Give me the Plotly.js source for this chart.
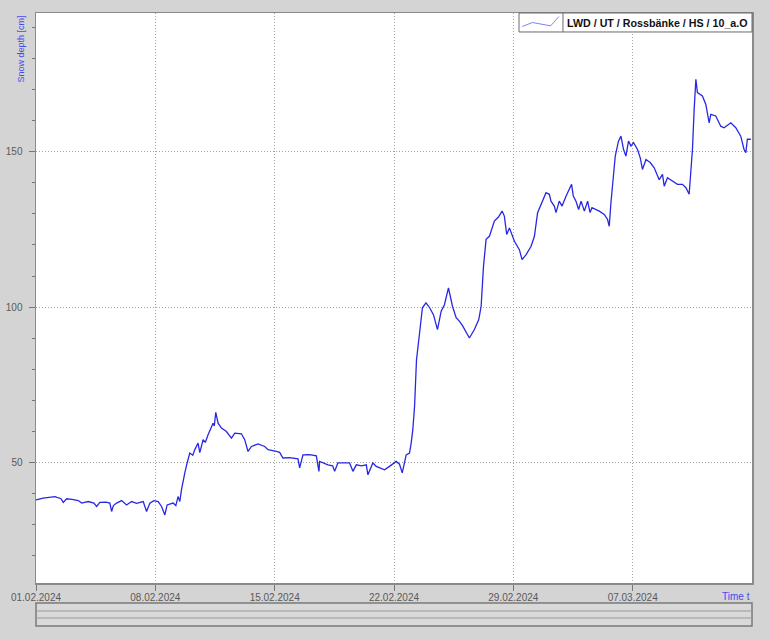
<!DOCTYPE html>
<html>
<head>
<meta charset="utf-8">
<script src="https://cdn.plot.ly/plotly-3.0.1.min.js"></script>
<style>
  html, body { margin: 0; padding: 0; background: #d4d4d4; }
  #chart { width: 770px; height: 639px; }
</style>
</head>
<body>
<div id="chart"></div>
<script>
// Snow depth station LWD / UT / Rossbänke / HS / 10_a.O, February - March 2024
const times = [
  "2024-02-01 00:00","2024-02-01 10:00","2024-02-02 02:40","2024-02-02 11:10","2024-02-02 14:25",
  "2024-02-02 19:10","2024-02-03 02:40","2024-02-03 11:30","2024-02-03 16:20","2024-02-04 01:30",
  "2024-02-04 09:30","2024-02-04 13:20","2024-02-04 18:00","2024-02-05 02:25","2024-02-05 08:00",
  "2024-02-05 10:25","2024-02-05 13:00","2024-02-05 17:30","2024-02-06 00:30","2024-02-06 07:30",
  "2024-02-06 14:35","2024-02-06 21:35","2024-02-07 06:55","2024-02-07 11:40","2024-02-07 16:20",
  "2024-02-07 21:55","2024-02-08 04:00","2024-02-08 08:45","2024-02-08 13:25","2024-02-08 16:35",
  "2024-02-09 01:00","2024-02-09 04:50","2024-02-09 08:00","2024-02-09 10:30","2024-02-09 12:50",
  "2024-02-09 15:05","2024-02-09 17:30","2024-02-09 20:20","2024-02-10 00:30","2024-02-10 04:45",
  "2024-02-10 07:35","2024-02-10 12:10","2024-02-10 14:35","2024-02-10 19:15","2024-02-10 22:20",
  "2024-02-11 02:15","2024-02-11 07:00","2024-02-11 09:15","2024-02-11 11:00","2024-02-11 13:05",
  "2024-02-11 16:20","2024-02-11 21:05","2024-02-12 04:05","2024-02-12 11:10","2024-02-12 15:50",
  "2024-02-13 01:10","2024-02-13 05:50","2024-02-13 10:30","2024-02-13 15:20","2024-02-14 00:35",
  "2024-02-14 10:00","2024-02-14 14:35","2024-02-15 02:25","2024-02-15 07:00","2024-02-15 11:40",
  "2024-02-15 21:05","2024-02-16 08:50","2024-02-16 11:10","2024-02-16 15:50","2024-02-17 01:10",
  "2024-02-17 10:40","2024-02-17 14:20","2024-02-17 15:20","2024-02-18 03:00","2024-02-18 09:35",
  "2024-02-18 12:25","2024-02-18 17:00","2024-02-19 01:00","2024-02-19 09:30","2024-02-19 14:10",
  "2024-02-19 18:55","2024-02-20 02:20","2024-02-20 09:00","2024-02-20 11:15","2024-02-20 18:15",
  "2024-02-20 23:00","2024-02-21 05:00","2024-02-21 10:40","2024-02-21 17:40","2024-02-22 03:05",
  "2024-02-22 07:45","2024-02-22 11:35","2024-02-22 17:10","2024-02-22 21:50","2024-02-23 00:10",
  "2024-02-23 02:30","2024-02-23 04:55","2024-02-23 07:40","2024-02-23 12:00","2024-02-23 16:00",
  "2024-02-23 21:00","2024-02-24 02:00","2024-02-24 07:40","2024-02-24 13:10","2024-02-24 18:25",
  "2024-02-24 23:00","2024-02-25 04:40","2024-02-25 10:20","2024-02-25 15:30","2024-02-25 20:00",
  "2024-02-26 00:50","2024-02-26 06:00","2024-02-26 10:10","2024-02-26 17:10","2024-02-26 23:20",
  "2024-02-27 02:40","2024-02-27 06:00","2024-02-27 09:40","2024-02-27 14:20","2024-02-27 21:20",
  "2024-02-28 03:00","2024-02-28 08:10","2024-02-28 11:20","2024-02-28 14:40","2024-02-28 18:30",
  "2024-02-29 01:30","2024-02-29 08:30","2024-02-29 12:20","2024-02-29 18:00","2024-03-01 01:00",
  "2024-03-01 05:40","2024-03-01 10:10","2024-03-01 17:20","2024-03-01 22:00","2024-03-02 02:40",
  "2024-03-02 05:00","2024-03-02 09:40","2024-03-02 12:05","2024-03-02 16:40","2024-03-02 20:35",
  "2024-03-03 02:10","2024-03-03 06:50","2024-03-03 10:00","2024-03-03 12:25","2024-03-03 16:10",
  "2024-03-03 19:55","2024-03-03 23:20","2024-03-04 04:00","2024-03-04 08:35","2024-03-04 12:00",
  "2024-03-04 14:40","2024-03-05 01:00","2024-03-05 08:00","2024-03-05 12:40","2024-03-05 15:00",
  "2024-03-05 17:25","2024-03-05 20:40","2024-03-05 23:30","2024-03-06 04:00","2024-03-06 07:30",
  "2024-03-06 11:10","2024-03-06 14:30","2024-03-06 18:10","2024-03-06 21:35","2024-03-07 01:10",
  "2024-03-07 06:50","2024-03-07 10:40","2024-03-07 13:50","2024-03-07 18:40","2024-03-08 00:40",
  "2024-03-08 06:20","2024-03-08 13:20","2024-03-08 18:00","2024-03-08 20:25","2024-03-09 01:00",
  "2024-03-09 08:00","2024-03-09 15:00","2024-03-09 22:00","2024-03-10 03:00","2024-03-10 07:30",
  "2024-03-10 12:10","2024-03-10 14:35","2024-03-10 17:00","2024-03-10 19:10","2024-03-11 02:10",
  "2024-03-11 07:00","2024-03-11 11:40","2024-03-11 14:00","2024-03-11 21:00","2024-03-12 04:00",
  "2024-03-12 08:40","2024-03-12 18:10","2024-03-13 01:10","2024-03-13 08:10","2024-03-13 12:50",
  "2024-03-13 15:20","2024-03-13 17:30","2024-03-13 22:20"
];

const snowDepth = [
  38.0, 38.6, 39.1, 38.4, 37.2,
  38.4, 38.2, 37.8, 37.0, 37.5,
  37.0, 35.9, 37.2, 37.3, 37.0,
  34.3, 36.2, 37.0, 37.8, 36.4,
  37.5, 36.9, 37.5, 34.3, 37.0,
  37.8, 37.5, 35.9, 33.2, 36.4,
  37.0, 36.2, 39.1, 37.5, 41.3,
  44.5, 46.7, 49.5, 53.1, 52.4,
  54.2, 56.3, 53.2, 57.4, 56.5,
  59.0, 61.7, 62.7, 61.8, 66.2,
  62.7, 61.1, 60.0, 57.9, 59.5,
  59.3, 57.4, 53.6, 55.2, 56.0,
  55.2, 54.2, 53.6, 53.3, 51.5,
  51.6, 51.2, 48.3, 52.5, 52.6,
  52.2, 47.2, 50.4, 49.3, 49.0,
  47.2, 49.9, 50.0, 49.9, 47.2,
  49.3, 49.0, 49.3, 46.1, 49.9,
  48.8, 48.2, 47.7, 48.8, 50.4,
  49.5, 46.7, 52.5, 53.1, 56.3,
  60.6, 68.0, 83.0, 91.7, 99.8,
  101.4, 99.9, 97.5, 92.8, 98.7,
  100.8, 106.2, 100.3, 96.6, 95.5,
  93.9, 92.0, 90.1, 92.8, 96.0,
  100.3, 113.2, 121.8, 122.8, 127.7,
  129.0, 130.9, 129.3, 123.4, 125.5,
  121.2, 118.5, 115.3, 116.9, 119.6,
  122.8, 130.4, 134.1, 136.8, 136.3,
  134.1, 132.5, 130.4, 134.1, 132.5,
  135.7, 137.9, 139.5, 135.7, 134.1,
  131.4, 134.1, 130.9, 134.1, 130.4,
  132.0, 130.9, 129.8, 128.2, 126.0,
  133.6, 141.1, 148.6, 153.4, 155.0,
  150.7, 148.6, 153.4, 151.8, 152.9,
  150.7, 148.0, 144.3, 147.5, 146.5,
  144.8, 141.0, 142.7, 138.9, 141.6,
  140.5, 139.5, 139.5, 138.4, 136.3,
  150.7, 163.6, 173.3, 169.0, 167.9,
  165.2, 159.3, 162.0, 161.5, 158.2,
  157.7, 159.3, 157.7, 155.0, 150.7,
  149.7, 154.0, 154.0
];

const tickDates = ["2024-02-01","2024-02-08","2024-02-15","2024-02-22","2024-02-29","2024-03-07"];
const tickLabels = ["01.02.2024","08.02.2024","15.02.2024","22.02.2024","29.02.2024","07.03.2024"];
const seriesName = "LWD / UT / Rossbänke / HS / 10_a.O";
const yTitle = "Snow depth [cm]";
const xTitle = "Time t";

const frameGrey = "#8a8a8a";
const labelGrey = "#5a5a5a";
const accentBlue = "#4848f0";
const gridGrey = "#a4a4a4";

const trace = {
  x: times,
  y: snowDepth,
  type: "scatter",
  mode: "lines",
  name: seriesName,
  line: { color: "#2828e4", width: 1.3 },
  showlegend: false,
  hoverinfo: "x+y"
};

const layout = {
  width: 770,
  height: 639,
  margin: { l: 36, r: 18, t: 13, b: 56, pad: 0 },
  paper_bgcolor: "#d4d4d4",
  plot_bgcolor: "#ffffff",
  font: { family: "Arial, 'Liberation Sans', sans-serif", size: 10, color: labelGrey },
  showlegend: false,
  xaxis: {
    type: "date",
    range: ["2024-02-01 00:00", "2024-03-14 00:00"],
    tickmode: "array",
    tickvals: tickDates,
    ticktext: tickLabels,
    ticks: "outside",
    ticklen: 6,
    tickwidth: 1,
    tickcolor: "#777777",
    tickfont: { size: 10, color: labelGrey },
    ticklabelstandoff: -2,
    showgrid: true,
    gridcolor: gridGrey,
    griddash: "1px,2px",
    gridwidth: 1,
    showline: true,
    linecolor: frameGrey,
    linewidth: 1.5,
    mirror: true,
    zeroline: false,
    fixedrange: true
  },
  yaxis: {
    range: [11.3, 194.6],
    tickmode: "linear",
    tick0: 0,
    dtick: 50,
    ticks: "outside",
    ticklen: 6,
    tickwidth: 1,
    tickcolor: "#777777",
    tickfont: { size: 10, color: labelGrey },
    ticklabelstandoff: 4,
    showgrid: true,
    gridcolor: gridGrey,
    griddash: "1px,2px",
    gridwidth: 1,
    showline: true,
    linecolor: frameGrey,
    linewidth: 1.5,
    mirror: true,
    zeroline: false,
    fixedrange: true,
    minor: {
      tick0: 0,
      dtick: 10,
      ticks: "outside",
      ticklen: 3,
      tickcolor: "#777777",
      showgrid: false
    }
  },
  shapes: [
    // legend box
    { type: "rect", xref: "paper", yref: "paper", x0: 0.6746, x1: 1, y0: 0.9667, y1: 1,
      fillcolor: "#ffffff", line: { color: "#6a6a6a", width: 1 } },
    { type: "line", xref: "paper", yref: "paper", x0: 0.736, x1: 0.736, y0: 0.9667, y1: 1,
      line: { color: "#6a6a6a", width: 1 } },
    { type: "path", xref: "paper", yref: "paper",
      path: "M 0.6792 0.9763 L 0.6932 0.9833 L 0.7188 0.9775 L 0.7304 0.9938",
      line: { color: "#8080ff", width: 1 } },
    // scroll bar strip below the axis
    { type: "rect", xref: "paper", yref: "paper", x0: 0, x1: 1, y0: -0.0754, y1: -0.0351,
      fillcolor: "#d9d9d9", line: { color: "#7a7a7a", width: 1.5 } },
    { type: "line", xref: "paper", yref: "paper", x0: 0, x1: 1, y0: -0.0491, y1: -0.0491,
      line: { color: "#9a9a9a", width: 1 } },
    { type: "line", xref: "paper", yref: "paper", x0: 0, x1: 1, y0: -0.0614, y1: -0.0614,
      line: { color: "#9a9a9a", width: 1 } }
  ],
  annotations: [
    { text: "<b>" + seriesName + "</b>", xref: "paper", yref: "paper",
      x: 0.7395, y: 0.9833, xanchor: "left", yanchor: "middle", showarrow: false,
      font: { family: "Arial, 'Liberation Sans', sans-serif", size: 10.7, color: "#111111" } },
    { text: yTitle, xref: "paper", yref: "paper", x: -0.021, y: 1.0,
      xanchor: "center", yanchor: "top", textangle: -90, showarrow: false,
      font: { family: "Arial, 'Liberation Sans', sans-serif", size: 9, color: accentBlue } },
    { text: xTitle, xref: "paper", yref: "paper", x: 1.0, y: -0.0245,
      xanchor: "right", yanchor: "middle", showarrow: false,
      font: { family: "Arial, 'Liberation Sans', sans-serif", size: 10, color: accentBlue } }
  ]
};

Plotly.newPlot("chart", [trace], layout, { displayModeBar: false, staticPlot: true });
</script>
</body>
</html>
